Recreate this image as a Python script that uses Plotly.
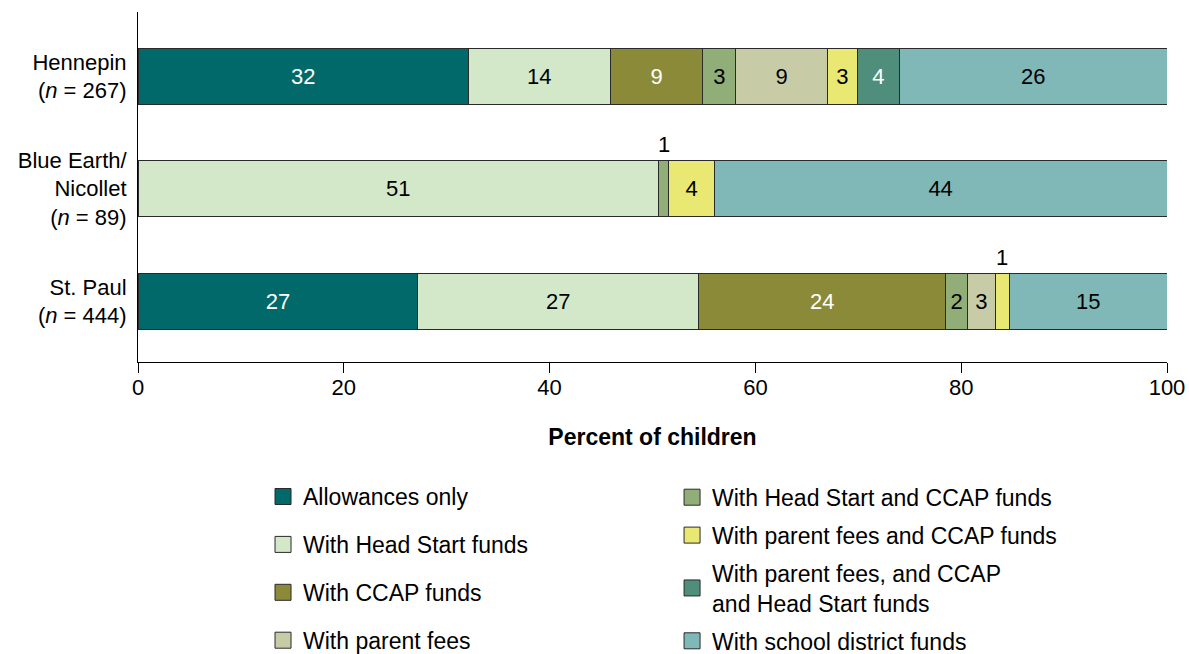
import plotly.graph_objects as go

sites = [
    "Hennepin<br>(<i>n</i> = 267)",
    "Blue Earth/<br>Nicollet<br>(<i>n</i> = 89)",
    "St. Paul<br>(<i>n</i> = 444)",
]

allowances_only = [32.1, 0.0, 27.2]
head_start = [13.8, 50.6, 27.3]
ccap = [9.0, 0.0, 24.0]
head_start_ccap = [3.2, 1.0, 2.1]
parent_fees = [8.9, 0.0, 2.7]
parent_fees_ccap = [2.9, 4.4, 1.4]
parent_fees_ccap_hs = [4.1, 0.0, 0.0]
school_district = [26.0, 44.0, 15.3]

series = [
    ("Allowances only", allowances_only, "#02696A", "white", "legend"),
    ("With Head Start funds", head_start, "#D2E8C8", "black", "legend"),
    ("With CCAP funds", ccap, "#8B8A38", "white", "legend"),
    ("With Head Start and CCAP funds", head_start_ccap, "#92AE78", "black", "legend2"),
    ("With parent fees", parent_fees, "#C8CCA6", "black", "legend"),
    ("With parent fees and CCAP funds", parent_fees_ccap, "#E8E872", "black", "legend2"),
    ("With parent fees, and CCAP<br>and Head Start funds", parent_fees_ccap_hs, "#4E8E7A", "white", "legend2"),
    ("With school district funds", school_district, "#80B8B8", "black", "legend2"),
]

FONT = "Liberation Sans, Arial, sans-serif"
EDGE = "#2a2a2a"

fig = go.Figure()
cum = [0.0] * len(sites)
small_labels = []
for name, vals, color, tcolor, leg in series:
    texts = []
    for j, v in enumerate(vals):
        if v >= 1.5:
            texts.append(f"{v:.0f}")
        else:
            texts.append("")
            if v > 0:
                small_labels.append((cum[j] + v / 2, sites[j], f"{v:.0f}"))
        cum[j] += v
    fig.add_trace(go.Bar(
        x=vals,
        y=sites,
        name=name,
        orientation="h",
        marker=dict(color=color, line=dict(color=EDGE, width=1)),
        text=texts,
        textposition="inside",
        insidetextanchor="middle",
        textangle=0,
        insidetextfont=dict(color=tcolor, size=22, family=FONT),
        showlegend=False,
        hoverinfo="x+name",
    ))
    # legend swatch (bigger square than the default bar symbol)
    fig.add_trace(go.Scatter(
        x=[None], y=[None],
        mode="markers",
        name=name,
        marker=dict(symbol="square", size=16, color=color, line=dict(color=EDGE, width=1)),
        legend=leg,
        legendgroup=name,
        hoverinfo="skip",
    ))

for x, y, t in small_labels:
    fig.add_annotation(
        x=x, y=y, text=t, showarrow=False,
        yshift=44, font=dict(size=22, color="black", family=FONT),
    )

legend_common = dict(
    orientation="v",
    font=dict(size=23, color="black", family=FONT),
    bgcolor="rgba(0,0,0,0)",
    yanchor="top",
    xanchor="left",
)

fig.update_layout(
    width=1189,
    height=654,
    barmode="stack",
    bargap=0.5,
    plot_bgcolor="white",
    paper_bgcolor="white",
    font=dict(family=FONT, size=22, color="black"),
    margin=dict(l=138, r=22, t=12, b=292, autoexpand=False),
    uniformtext=dict(minsize=22, mode="show"),
    xaxis=dict(
        range=[0, 100],
        tickvals=[0, 20, 40, 60, 80, 100],
        ticks="outside",
        ticklen=10,
        tickcolor="black",
        showline=True,
        linecolor="black",
        linewidth=1,
        showgrid=False,
        zeroline=False,
        tickfont=dict(size=22),
        ticklabelstandoff=-4,
        ticklabeloverflow="allow",
        automargin=False,
        title=dict(text="<b>Percent of children</b>", font=dict(size=23), standoff=29),
    ),
    yaxis=dict(
        range=[2.54, -0.57],
        showline=True,
        linecolor="black",
        linewidth=1,
        showgrid=False,
        ticks="outside",
        ticklen=6,
        tickcolor="rgba(0,0,0,0)",
        tickfont=dict(size=22),
        automargin=False,
    ),
    legend=dict(x=0.1215, y=-0.323, tracegroupgap=15, **legend_common),
    legend2=dict(x=0.519, y=-0.325, tracegroupgap=5, **legend_common),
    showlegend=True,
)

# drop the default page margin so the figure fills the window exactly
fig.write_html(
    "out.html",
    config={"displayModeBar": False},
    post_script="document.body.style.margin='0'; document.body.style.overflow='hidden';",
)
